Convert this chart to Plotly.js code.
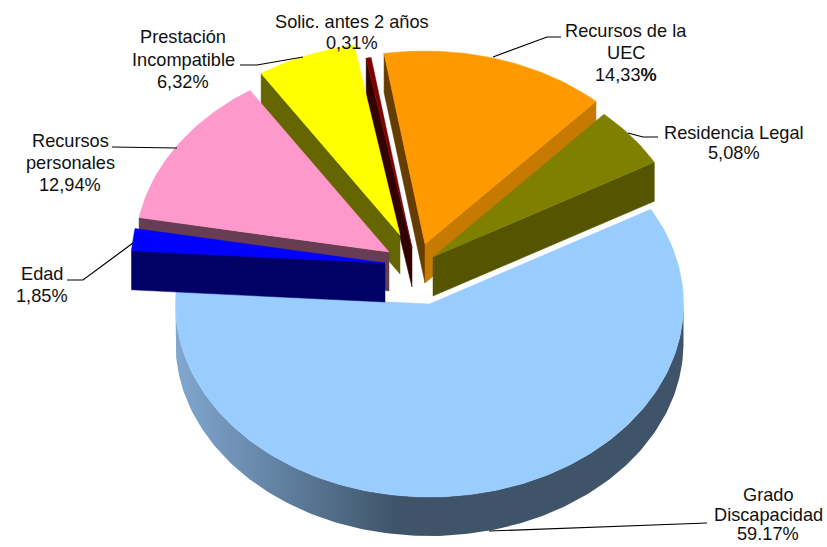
<!DOCTYPE html>
<html>
<head>
<meta charset="utf-8">
<script src="https://cdn.plot.ly/plotly-3.0.1.min.js"></script>
<style>html,body{margin:0;padding:0;background:#fff}#chart{width:827px;height:547px}</style>
</head>
<body>
<div id="chart"></div>
<script>
// Data, clockwise from the first slice
var categories = ['Grado Discapacidad','Edad','Recursos personales','Prestación Incompatible','Solic. antes 2 años','Recursos de la UEC','Residencia Legal'];
var percents   = [59.17, 1.85, 12.94, 6.32, 0.31, 14.33, 5.08];
var labelLines = [
  ['Grado','Discapacidad','59.17%'],
  ['Edad','1,85%'],
  ['Recursos','personales','12,94%'],
  ['Prestación','Incompatible','6,32%'],
  ['Solic. antes 2 años','0,31%'],
  ['Recursos de la','UEC','14,33<b>%</b>'],
  ['Residencia Legal','5,08%']
];

// Styles
var topColors   = ['#99ccff','#0000ff','#ff99cc','#ffff00','#800000','#ff9900','#808000'];
var startFace   = ['#3f5468','#000066','#663d52','#666600','#330000','#663d00','#555500'];
var endFace     = ['#3f5468','#000066','#663d52','#666600','#330000','#c67a00','#555500'];

// Layout of the projected pie (pixel-scaled axes)
var firstAngle = 60.6, rx = 254, ry = 193, depth = 39;
var apexX = [429.5,385,389,400,412,425,433];
var apexY = [304,263,252,235,248,244,257];
var drawOrder = [0,4,3,5,6,2,1];
var labelX = [768,42,70,183,352,626,734];
var labelY = [[495,515,534],[274,296],[141,163,185],[37,60,82],[22,43],[31,53,75],[133,153]];
var leaders = [
  [[489,531],[707,523]],
  [[67,280],[83,280],[133,243]],
  [[112,147],[177,148]],
  [[240,65],[257,65],[303,57]],
  [],
  [[493,57],[547,37],[561,37]],
  [[628,133],[643,137],[658,137]]
];

var starts = [], ends = [], acc = firstAngle;
percents.forEach(function(p){ starts.push(acc); acc += p*3.6; ends.push(acc); });

function pt(i, deg, dz){
  var t = deg*Math.PI/180;
  return [apexX[i] + rx*Math.sin(t), apexY[i] - ry*Math.cos(t) + (dz||0)];
}
function poly(points, color, name, gradient){
  var tr = {type:'scatter', mode:'lines', x:points.map(function(p){return p[0];}), y:points.map(function(p){return p[1];}),
    fill:'toself', fillcolor:color, line:{width:0.5,color:color}, hoverinfo:'text', text:name, showlegend:false};
  if(gradient){ tr.fillgradient = gradient; tr.line = {width:0}; }
  return tr;
}
function arc(i, a, b, dz){
  var out = [], n = Math.max(2, Math.ceil(Math.abs(b-a)));
  for(var k=0;k<=n;k++) out.push(pt(i, a+(b-a)*k/n, dz));
  return out;
}
var traces = [];
drawOrder.forEach(function(i){
  var s = starts[i], e = ends[i], name = categories[i];
  var apex = [apexX[i],apexY[i]], apexLow = [apexX[i],apexY[i]+depth];
  // radial faces turned to the viewer
  if(Math.sin(s*Math.PI/180) < 0) traces.push(poly([apex,pt(i,s),pt(i,s,depth),apexLow,apex], startFace[i], name));
  if(Math.sin(e*Math.PI/180) > 0) traces.push(poly([apex,pt(i,e),pt(i,e,depth),apexLow,apex], endFace[i], name));
  // outer rim, front part only
  var a = Math.max(s,90), b = Math.min(e,270);
  if(b > a){
    var rim = arc(i,a,b,0).concat(arc(i,b,a,depth));
    rim.push(rim[0]);
    traces.push(poly(rim, endFace[i], name, {type:'horizontal', start:175, stop:395,
      colorscale:[[0,'#82a8d0'],[0.5,'#5f7f9f'],[1,'#3f5468']]}));
  }
  // top face
  traces.push(poly([apex].concat(arc(i,s,e,0)).concat([apex]), topColors[i], name));
});

var annotations = [];
labelLines.forEach(function(lines,i){
  lines.forEach(function(t,k){
    annotations.push({x:labelX[i], y:labelY[i][k], xref:'x', yref:'y', text:t, showarrow:false, align:'center',
      xanchor:'center', yanchor:'middle', borderpad:0, font:{family:'Liberation Sans, Arial, sans-serif', size:18.2, color:'#111'}});
  });
});
var shapes = leaders.filter(function(l){return l.length;}).map(function(l){
  return {type:'path', xref:'x', yref:'y', path:l.map(function(p,k){return (k?'L':'M')+p[0]+','+p[1];}).join(' '),
    line:{color:'#000',width:1.2}};
});

Plotly.newPlot('chart', traces, {
  width:827, height:547, margin:{l:0,r:0,t:0,b:0}, paper_bgcolor:'#fff', plot_bgcolor:'#fff', showlegend:false,
  xaxis:{range:[0,827], visible:false, fixedrange:true},
  yaxis:{range:[547,0], visible:false, fixedrange:true},
  annotations:annotations, shapes:shapes
}, {displayModeBar:false, staticPlot:true});
</script>
</body>
</html>
